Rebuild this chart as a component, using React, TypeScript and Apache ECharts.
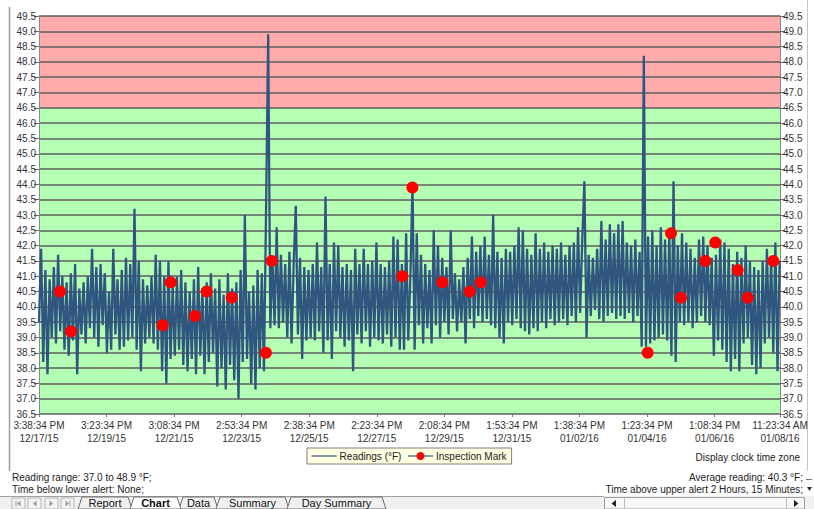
import React, { useEffect, useRef } from "react";
import * as echarts from "echarts";

// ---------- data ----------
const X_TICK_LABELS = [
  "3:38:34 PM\n12/17/15",
  "3:23:34 PM\n12/19/15",
  "3:08:34 PM\n12/21/15",
  "2:53:34 PM\n12/23/15",
  "2:38:34 PM\n12/25/15",
  "2:23:34 PM\n12/27/15",
  "2:08:34 PM\n12/29/15",
  "1:53:34 PM\n12/31/15",
  "1:38:34 PM\n01/02/16",
  "1:23:34 PM\n01/04/16",
  "1:08:34 PM\n01/06/16",
  "11:23:34 AM\n01/08/16",
];
const X_TICK_STEP_HOURS = 47.75;
const X_SPAN_HOURS = 523.75;
const SAMPLE_STEP_HOURS = 1.5;

const Y_MIN = 36.5;
const Y_MAX = 49.5;
const Y_STEP = 0.5;
const ALERT_HIGH = 46.5;

// readings (°F), one every SAMPLE_STEP_HOURS from the start
const READINGS = [
  39.5, 41.9, 38.2, 41.2, 37.8, 40.9, 39.0, 41.3, 38.8, 41.7,
  39.2, 41.0, 38.6, 40.8, 38.4, 41.1, 38.9, 41.4, 37.8, 40.6,
  39.1, 40.8, 38.8, 41.0, 39.3, 41.9, 39.0, 41.3, 38.7, 41.4,
  39.4, 41.1, 38.5, 40.5, 38.6, 41.9, 39.1, 40.9, 38.6, 41.2,
  38.7, 41.6, 38.9, 41.4, 39.0, 43.2, 38.6, 41.5, 37.9, 40.9,
  38.8, 40.7, 39.0, 41.0, 38.8, 41.7, 38.6, 41.5, 37.9, 41.0,
  37.5, 41.5, 38.3, 40.7, 38.4, 41.0, 38.6, 41.2, 38.1, 40.8,
  37.9, 40.5, 38.3, 40.9, 37.8, 41.3, 38.4, 40.6, 37.8, 40.8,
  38.2, 41.1, 38.5, 40.6, 37.4, 40.9, 38.0, 40.4, 37.3, 41.1,
  38.1, 40.6, 37.6, 40.8, 37.0, 41.2, 38.2, 43.0, 38.3, 40.5,
  37.5, 40.7, 37.3, 41.2, 38.0, 41.1, 37.9, 43.2, 48.9, 39.3,
  41.6, 39.4, 42.6, 39.3, 41.7, 39.5, 41.4, 39.0, 41.8, 38.8,
  41.4, 43.3, 39.1, 41.6, 38.3, 41.3, 38.9, 41.2, 39.0, 41.4,
  38.9, 42.1, 39.2, 41.3, 38.5, 43.6, 38.9, 41.4, 38.3, 42.1,
  39.2, 42.0, 39.0, 41.3, 38.7, 41.4, 38.9, 41.2, 37.9, 41.9,
  39.1, 41.4, 38.8, 41.9, 39.2, 41.4, 38.7, 41.5, 39.0, 42.1,
  38.9, 41.4, 38.8, 41.3, 39.1, 41.5, 38.7, 42.3, 39.0, 42.2,
  38.6, 41.4, 38.6, 42.4, 38.9, 41.0, 44.0, 38.6, 42.4, 39.4,
  41.7, 38.8, 41.4, 39.3, 41.2, 38.8, 42.5, 39.4, 42.0, 39.0,
  41.6, 39.5, 41.3, 39.1, 42.5, 39.6, 41.1, 39.2, 40.9, 39.5,
  41.3, 38.8, 41.6, 39.6, 42.3, 39.3, 41.8, 39.7, 42.0, 39.5,
  42.3, 39.6, 41.7, 39.4, 43.0, 39.3, 41.8, 39.0, 41.6, 38.8,
  41.9, 39.5, 41.8, 39.4, 42.0, 39.6, 42.6, 39.3, 42.5, 39.2,
  41.9, 39.1, 41.7, 39.3, 42.4, 39.2, 41.9, 39.5, 42.1, 39.3,
  41.8, 39.6, 42.0, 39.4, 41.9, 39.5, 42.1, 39.6, 41.7, 39.4,
  42.0, 39.7, 42.1, 39.5, 42.6, 39.8, 42.2, 44.1, 39.0, 41.7,
  39.7, 41.6, 39.9, 41.9, 39.6, 42.8, 39.5, 42.2, 39.7, 42.7,
  39.8, 42.4, 39.6, 42.7, 39.7, 42.8, 39.6, 42.1, 39.8, 42.0,
  39.5, 42.2, 39.7, 41.8, 38.7, 48.2, 38.7, 42.3, 38.8, 42.5,
  38.9, 42.0, 39.0, 42.6, 39.1, 42.2, 38.9, 42.4, 38.4, 44.1,
  38.2, 42.0, 39.5, 42.4, 39.4, 42.1, 39.5, 41.9, 39.3, 41.6,
  39.5, 42.2, 39.7, 42.3, 39.5, 42.0, 39.4, 41.6, 38.4, 41.7,
  38.9, 42.2, 38.6, 42.1, 38.2, 41.9, 37.9, 41.4, 38.3, 41.8,
  37.9, 41.6, 38.8, 42.0, 39.0, 41.5, 38.1, 41.3, 37.8, 41.2,
  38.0, 41.5, 38.8, 41.9, 39.0, 41.6, 38.5, 42.1, 37.9, 41.5,
];

// inspection marks: hours from start, reading (°F)
const MARK_HOURS = [
  14.8, 22.6, 87.4, 93.1, 110.3, 118.5, 136.2, 160.4, 164.5, 256.8, 263.9,
  285.1, 304.4, 312.2, 430.2, 446.7, 453.8, 471.0, 478.0, 493.8, 500.9, 519.0,
];
const MARK_VALUES = [
  40.5, 39.2, 39.4, 40.8, 39.7, 40.5, 40.3, 38.5, 41.5, 41.0, 43.9,
  40.8, 40.5, 40.8, 38.5, 42.4, 40.3, 41.5, 42.1, 41.2, 40.3, 41.5,
];

const SERIES_READINGS = "Readings (°F)";
const SERIES_MARKS = "Inspection Mark";

const FOOTER_LEFT = ["Reading range: 37.0 to 48.9 °F;", "Time below lower alert: None;"];
const FOOTER_RIGHT = ["Average reading: 40.3 °F;", "Time above upper alert 2 Hours, 15 Minutes;"];
const TIME_ZONE_NOTE = "Display clock time zone";
const TABS = ["Report", "Chart", "Data", "Summary", "Day Summary"];
const ACTIVE_TAB = "Chart";

// ---------- styles ----------
const LINE_COLOR = "#30567f";
const RED_ZONE = "#ffabab";
const GREEN_ZONE = "#b5ffb5";
const GRID_COLOR = "#5c5c5c";
const FONT = "Arial, 'Liberation Sans', sans-serif";

function buildOption() {
  const bandCount = Math.round((Y_MAX - Y_MIN) / Y_STEP);
  const bandColors: string[] = [];
  for (let b = 0; b < bandCount; b++) {
    const lower = Y_MIN + b * Y_STEP;
    bandColors.push(lower >= ALERT_HIGH - 1e-9 ? RED_ZONE : GREEN_ZONE);
  }

  const yAxisBase = {
    type: "value",
    min: Y_MIN,
    max: Y_MAX,
    interval: Y_STEP,
    axisLine: { show: true, lineStyle: { color: "#8a8a8a", width: 1 } },
    axisTick: { show: true, length: 5, lineStyle: { color: "#666" } },
    axisLabel: {
      fontSize: 10,
      fontFamily: FONT,
      color: "#333",
      margin: 3,
      formatter: (v: number) => v.toFixed(1),
    },
  };

  const tabGraphics: any[] = [];
  const tabLayout = [
    { x0: 78, x1: 132 },
    { x0: 130, x1: 181 },
    { x0: 179, x1: 218 },
    { x0: 216, x1: 289 },
    { x0: 287, x1: 386 },
  ];
  TABS.forEach((name, i) => {
    const { x0, x1 } = tabLayout[i];
    const active = name === ACTIVE_TAB;
    tabGraphics.push({
      type: "polygon",
      shape: { points: [[x0, 509], [x0 + 4, 497], [x1 - 4, 497], [x1, 509]] },
      style: { fill: active ? "#ffffff" : "#f0f0f0", stroke: "#6e6e6e", lineWidth: 1 },
      z: active ? 12 : 11,
    });
    tabGraphics.push({
      type: "text",
      x: (x0 + x1) / 2,
      y: 503,
      z: 13,
      style: {
        text: name,
        fontSize: 11,
        fontFamily: FONT,
        fontWeight: active ? "bold" : "normal",
        fill: "#111",
        align: "center",
        verticalAlign: "middle",
        textAlign: "center",
        textVerticalAlign: "middle",
      },
    });
  });

  const navButtons: any[] = [];
  [12, 28, 45, 61].forEach((bx, i) => {
    navButtons.push({
      type: "rect",
      shape: { x: bx, y: 498, width: 13, height: 11 },
      style: { fill: "#f4f4f4", stroke: "#b5b5b5", lineWidth: 1 },
      z: 11,
    });
    const cx = bx + 6.5;
    const left = i < 2;
    navButtons.push({
      type: "polygon",
      shape: {
        points: left
          ? [[cx + 2, 500.5], [cx + 2, 506.5], [cx - 1.5, 503.5]]
          : [[cx - 2, 500.5], [cx - 2, 506.5], [cx + 1.5, 503.5]],
      },
      style: { fill: "#9a9a9a" },
      z: 12,
    });
    if (i === 0 || i === 3) {
      navButtons.push({
        type: "line",
        shape: { x1: i === 0 ? cx - 2.5 : cx + 2.5, y1: 500.5, x2: i === 0 ? cx - 2.5 : cx + 2.5, y2: 506.5 },
        style: { stroke: "#9a9a9a", lineWidth: 1 },
        z: 12,
      });
    }
  });

  const textStyle = (text: string, align: string) => ({
    text,
    fontSize: 10,
    fontFamily: FONT,
    fill: "#222",
    align,
    verticalAlign: "middle",
    textAlign: align,
    textVerticalAlign: "middle",
  });

  return {
    animation: false,
    backgroundColor: "#ffffff",
    grid: { left: 39, right: 34, top: 16, bottom: 95, outerBoundsMode: "none", containLabel: false },
    legend: {
      left: 307,
      top: 448,
      orient: "horizontal",
      backgroundColor: "#ffffe1",
      borderColor: "#808080",
      borderWidth: 1,
      borderRadius: 0,
      padding: [3, 5, 3, 4],
      itemGap: 6,
      itemWidth: 25,
      itemHeight: 10,
      textStyle: { fontSize: 10, fontFamily: FONT, color: "#222", padding: [0, 0, 0, -2] },
      data: [
        {
          name: SERIES_READINGS,
          itemStyle: { opacity: 0 },
          lineStyle: { color: LINE_COLOR, width: 1.2, opacity: 1 },
        },
        { name: SERIES_MARKS, lineStyle: { color: LINE_COLOR, width: 1.2, opacity: 1 } },
      ],
    },
    xAxis: {
      type: "value",
      min: 0,
      max: X_SPAN_HOURS,
      interval: X_TICK_STEP_HOURS,
      axisLine: { show: true, lineStyle: { color: "#8a8a8a" } },
      axisTick: { show: true, length: 3, lineStyle: { color: "#777" } },
      splitLine: { show: false },
      axisLabel: {
        fontSize: 10,
        fontFamily: FONT,
        color: "#333",
        lineHeight: 13,
        margin: 5,
        showMinLabel: true,
        showMaxLabel: true,
        formatter: (v: number) => {
          const idx = Math.round(v / X_TICK_STEP_HOURS);
          return X_TICK_LABELS[Math.min(idx, X_TICK_LABELS.length - 1)];
        },
      },
    },
    yAxis: [
      {
        ...yAxisBase,
        position: "left",
        splitLine: { show: true, lineStyle: { color: GRID_COLOR, width: 1.6 } },
        splitArea: { show: true, areaStyle: { color: bandColors } },
      },
      {
        ...yAxisBase,
        position: "right",
        splitLine: { show: false },
      },
    ],
    series: [
      {
        name: SERIES_READINGS,
        type: "line",
        yAxisIndex: 0,
        data: READINGS.map((v, i) => [i * SAMPLE_STEP_HOURS, v]),
        symbol: "none",
        showSymbol: false,
        lineStyle: { color: LINE_COLOR, width: 2.3 },
        itemStyle: { color: LINE_COLOR },
        z: 3,
      },
      {
        name: SERIES_MARKS,
        type: "line",
        yAxisIndex: 0,
        data: MARK_HOURS.map((h, i) => [h, MARK_VALUES[i]]),
        symbol: "circle",
        symbolSize: 12,
        showSymbol: true,
        itemStyle: { color: "#ff0000" },
        lineStyle: { width: 0, opacity: 0 },
        z: 4,
      },
    ],
    graphic: [
      { type: "line", shape: { x1: 9.5, y1: 7, x2: 9.5, y2: 471 }, style: { stroke: "#9c9c9c", lineWidth: 1.5 } },
      { type: "line", shape: { x1: 807.5, y1: 0, x2: 807.5, y2: 471 }, style: { stroke: "#c8c8c8", lineWidth: 1 } },
      { type: "text", x: 800, y: 457, style: textStyle(TIME_ZONE_NOTE, "right") },
      { type: "text", x: 12, y: 477, style: textStyle(FOOTER_LEFT[0], "left") },
      { type: "text", x: 12, y: 489, style: textStyle(FOOTER_LEFT[1], "left") },
      { type: "text", x: 803, y: 477, style: textStyle(FOOTER_RIGHT[0], "right") },
      { type: "text", x: 803, y: 489, style: textStyle(FOOTER_RIGHT[1], "right") },
      { type: "line", shape: { x1: 806, y1: 479.5, x2: 812, y2: 479.5 }, style: { stroke: "#777", lineWidth: 1 } },
      { type: "polygon", shape: { points: [[807, 487], [812, 487], [809.5, 491]] }, style: { fill: "#333" } },
      { type: "rect", shape: { x: 0, y: 496, width: 814, height: 13 }, style: { fill: "#f0f0f0" }, z: 10 },
      { type: "line", shape: { x1: 0, y1: 496.5, x2: 604, y2: 496.5 }, style: { stroke: "#a0a0a0", lineWidth: 1 }, z: 10 },
      ...navButtons,
      ...tabGraphics,
      { type: "rect", shape: { x: 604.5, y: 497.5, width: 200, height: 11.5 }, style: { fill: "#f7f7f7", stroke: "#9c9c9c", lineWidth: 1 }, z: 11 },
      { type: "polygon", shape: { points: [[616, 500], [616, 507], [611.5, 503.5]] }, style: { fill: "#222" }, z: 12 },
      { type: "polygon", shape: { points: [[794, 500], [794, 507], [798.5, 503.5]] }, style: { fill: "#222" }, z: 12 },
      { type: "line", shape: { x1: 624.5, y1: 498, x2: 624.5, y2: 509 }, style: { stroke: "#bbb", lineWidth: 1 }, z: 12 },
      { type: "line", shape: { x1: 786.5, y1: 498, x2: 786.5, y2: 509 }, style: { stroke: "#bbb", lineWidth: 1 }, z: 12 },
    ],
  };
}

export default function App() {
  const ref = useRef<HTMLDivElement>(null);
  useEffect(() => {
    if (!ref.current) return;
    const chart = echarts.init(ref.current, undefined, { renderer: "svg" });
    chart.setOption(buildOption() as any);
    return () => chart.dispose();
  }, []);
  return (
    <div
      ref={ref}
      style={{ position: "fixed", left: 0, top: 0, width: 814, height: 509, background: "#fff" }}
    />
  );
}
